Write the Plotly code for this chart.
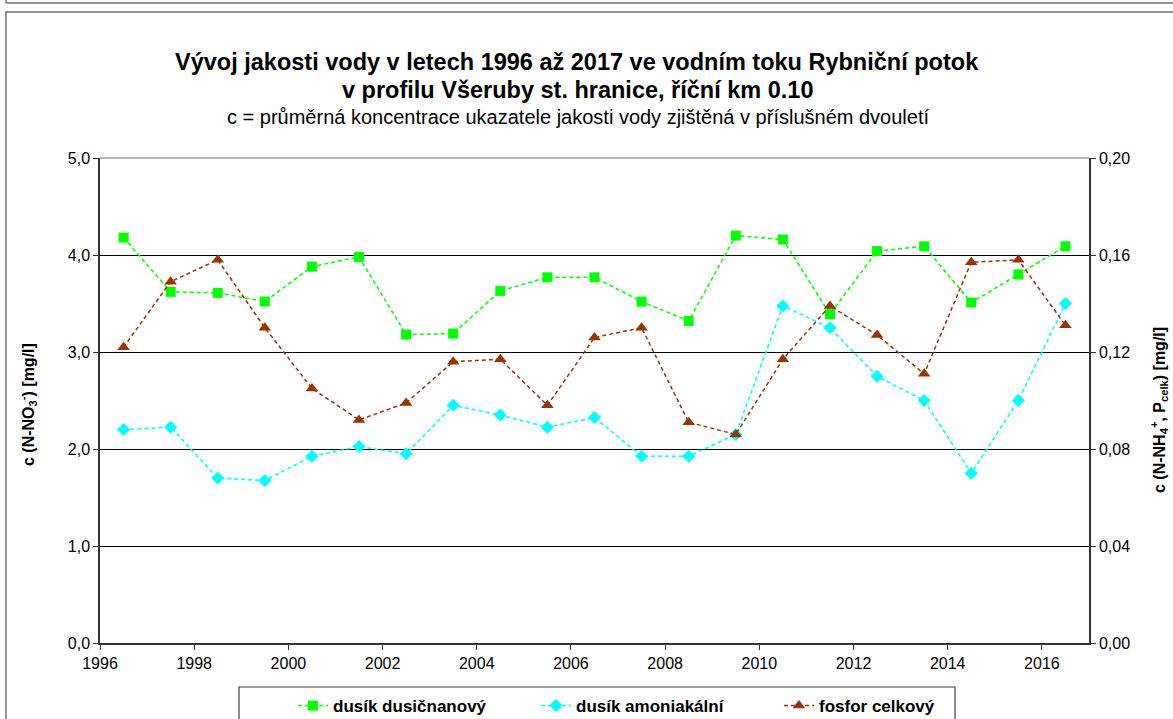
import plotly.graph_objs as go

# midpoints of each year (Excel date axis, one point per year)
roky = [1996.5, 1997.5, 1998.5, 1999.5, 2000.5, 2001.5, 2002.5, 2003.5, 2004.5, 2005.5, 2006.5,
        2007.5, 2008.5, 2009.5, 2010.5, 2011.5, 2012.5, 2013.5, 2014.5, 2015.5, 2016.5]

dusik_dusicnanovy = [4.18, 3.62, 3.61, 3.52, 3.88, 3.98, 3.18, 3.19, 3.63, 3.77, 3.77,
                     3.52, 3.32, 4.20, 4.16, 3.39, 4.04, 4.09, 3.51, 3.80, 4.09]
dusik_amoniakalni = [0.088, 0.089, 0.068, 0.067, 0.077, 0.081, 0.078, 0.098, 0.094, 0.089, 0.093,
                     0.077, 0.077, 0.086, 0.139, 0.130, 0.110, 0.100, 0.070, 0.100, 0.140]
fosfor_celkovy = [0.122, 0.149, 0.158, 0.130, 0.105, 0.092, 0.099, 0.116, 0.117, 0.098, 0.126,
                  0.130, 0.091, 0.086, 0.117, 0.139, 0.127, 0.111, 0.157, 0.158, 0.131]

x_ticks = [1996, 1998, 2000, 2002, 2004, 2006, 2008, 2010, 2012, 2014, 2016]

FONT = "Liberation Sans"
DASH = "4px,3px"


def px_x(px):
    # pixel column -> paper x (plot area spans 100..1089)
    return (px - 100) / 989


def px_y(py):
    # pixel row -> paper y (plot area spans 158..643)
    return (643 - py) / 485


fig = go.Figure()

fig.add_trace(go.Scatter(
    x=roky, y=dusik_dusicnanovy, name="dusík dusičnanový",
    mode="lines+markers",
    line=dict(color="#00FF00", width=1.5, dash=DASH),
    marker=dict(symbol="square", size=10, color="#00FF00")
))
fig.add_trace(go.Scatter(
    x=roky, y=dusik_amoniakalni, name="dusík amoniakální", yaxis="y2",
    mode="lines+markers",
    line=dict(color="#00FFFF", width=1.5, dash=DASH),
    marker=dict(symbol="diamond", size=10, color="#00FFFF")
))
fig.add_trace(go.Scatter(
    x=roky, y=fosfor_celkovy, name="fosfor celkový", yaxis="y2",
    mode="lines+markers",
    line=dict(color="#993300", width=1.5, dash=DASH),
    marker=dict(symbol="triangle-up", size=11, color="#993300")
))

fig.update_layout(
    width=1173, height=719,
    margin=dict(l=100, r=84, t=158, b=76, autoexpand=False),
    paper_bgcolor="white", plot_bgcolor="white",
    separators=", ",
    font=dict(family=FONT, size=16, color="black"),
    showlegend=True,
    xaxis=dict(
        range=[1996, 2017], tickvals=x_ticks, ticktext=[str(t) for t in x_ticks],
        showgrid=False, zeroline=False,
        showline=True, linecolor="#333333", linewidth=1.5,
        ticks="outside", ticklen=5, tickcolor="#333333",
        tickfont=dict(size=16)
    ),
    yaxis=dict(
        range=[0, 5], dtick=1, tickformat=".1f",
        showgrid=True, gridcolor="black", gridwidth=1, zeroline=False,
        showline=True, linecolor="#333333", linewidth=1.5,
        ticks="outside", ticklen=5, tickcolor="#333333",
        tickfont=dict(size=16)
    ),
    yaxis2=dict(
        range=[0, 0.2], dtick=0.04, tickformat=".2f",
        overlaying="y", side="right",
        showgrid=False, zeroline=False,
        showline=True, linecolor="#333333", linewidth=1.5,
        ticks="outside", ticklen=5, tickcolor="#333333",
        tickfont=dict(size=16)
    ),
    legend=dict(
        orientation="h", x=px_x(293), xanchor="left", y=px_y(706), yanchor="middle",
        font=dict(family=FONT, size=17, color="black", weight="bold"),
        entrywidth=198, entrywidthmode="pixels",
        bgcolor="rgba(0,0,0,0)", borderwidth=0
    ),
    annotations=[
        dict(text="<b>Vývoj jakosti vody v letech 1996 až 2017 ve vodním toku Rybniční potok</b>",
             xref="paper", yref="paper", x=px_x(577), y=px_y(62),
             xanchor="center", yanchor="middle", showarrow=False,
             font=dict(family=FONT, size=23.5)),
        dict(text="<b>v profilu Všeruby st. hranice, říční km 0.10</b>",
             xref="paper", yref="paper", x=px_x(577), y=px_y(90),
             xanchor="center", yanchor="middle", showarrow=False,
             font=dict(family=FONT, size=23.5)),
        dict(text="c = průměrná koncentrace ukazatele jakosti vody zjištěná v příslušném dvouletí",
             xref="paper", yref="paper", x=px_x(578), y=px_y(117),
             xanchor="center", yanchor="middle", showarrow=False,
             font=dict(family=FONT, size=20)),
        dict(text="<b>c (N-NO<sub>3</sub><sup>-</sup>) [mg/l]</b>",
             xref="paper", yref="paper", x=px_x(28), y=px_y(405),
             xanchor="center", yanchor="middle", textangle=-90, showarrow=False,
             font=dict(family=FONT, size=16)),
        dict(text="<b>c (N-NH<sub>4</sub><sup>+</sup>, P<sub>celk</sub>) [mg/l]</b>",
             xref="paper", yref="paper", x=px_x(1159), y=px_y(410),
             xanchor="center", yanchor="middle", textangle=-90, showarrow=False,
             font=dict(family=FONT, size=16)),
    ],
    shapes=[
        # outer chart frame
        dict(type="rect", xref="paper", yref="paper",
             x0=px_x(6), x1=1.2, y0=-0.4, y1=px_y(12),
             line=dict(color="#707070", width=1.5), layer="below"),
        # bottom edge of the previous frame above
        dict(type="line", xref="paper", yref="paper",
             x0=px_x(6), x1=1.2, y0=px_y(3), y1=px_y(3),
             line=dict(color="#707070", width=1.5)),
        dict(type="line", xref="paper", yref="paper",
             x0=px_x(6), x1=px_x(6), y0=px_y(3), y1=1.4,
             line=dict(color="#707070", width=1.5)),
        # plot area top border
        dict(type="line", xref="paper", yref="paper", x0=0, x1=1, y0=1, y1=1,
             line=dict(color="#A0A0A0", width=1.5), layer="above"),
        # legend frame
        dict(type="rect", xref="paper", yref="paper",
             x0=px_x(239), x1=px_x(955), y0=-0.4, y1=px_y(687),
             line=dict(color="#404040", width=1.2), layer="below"),
    ],
)

# drop the browser's default body margin so the figure sits at the page corner
fig.write_html("out.html", config={"displayModeBar": False},
               post_script="document.body.style.margin='0';")
